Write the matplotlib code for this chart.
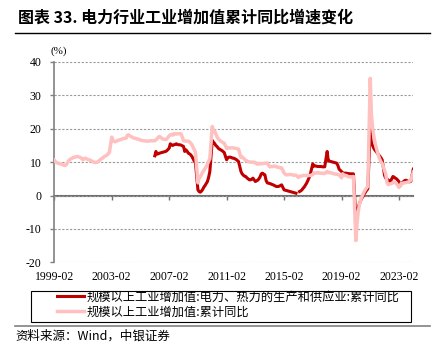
import numpy as np
import pandas as pd
import matplotlib
matplotlib.use('Agg')
import matplotlib.pyplot as plt
import matplotlib.dates as mdates
from matplotlib.lines import Line2D
from matplotlib.patches import Rectangle

cjk = ['Noto Sans CJK SC', 'DejaVu Sans']
serif = 'Liberation Serif'

#################################################
# cumulative yoy (%), one row per year, Feb..Dec (Jan-Feb reported together)

total_yoy = [
  10.6, 10.1, 9.9, 9.7, 9.6, 9.5, 9.4, 9.2, 9.1, 9.0, 9.2,          # 1999
  10.4, 10.8, 11.0, 11.2, 11.4, 11.5, 11.6, 11.7, 11.6, 11.5, 11.4,  # 2000
  10.7, 11.0, 11.2, 11.0, 10.8, 10.7, 10.6, 10.4, 10.2, 10.0, 9.9,   # 2001
  10.0, 10.3, 10.6, 10.9, 11.1, 11.4, 11.7, 11.9, 12.1, 12.5, 12.8,  # 2002
  17.5, 16.5, 16.2, 16.1, 16.3, 16.5, 16.6, 16.7, 16.8, 17.0, 17.1,  # 2003
  17.2, 18.0, 18.2, 17.9, 17.7, 17.5, 17.3, 17.2, 17.1, 17.0, 16.9,  # 2004
  16.6, 16.5, 16.4, 16.4, 16.4, 16.3, 16.3, 16.3, 16.4, 16.4, 16.4,  # 2005
  16.4, 16.7, 17.0, 17.5, 17.7, 17.4, 17.1, 16.9, 16.8, 16.8, 16.9,  # 2006
  17.9, 18.2, 18.3, 18.1, 18.5, 18.5, 18.4, 18.5, 18.5, 18.5, 18.5,  # 2007
  16.4, 16.4, 16.3, 16.3, 16.3, 16.1, 15.7, 15.2, 14.4, 13.7, 12.9,  # 2008
  3.8, 5.1, 5.5, 6.3, 7.0, 7.5, 8.1, 8.7, 9.4, 10.3, 11.0,           # 2009
  20.7, 19.6, 19.4, 18.5, 17.6, 17.0, 16.6, 16.3, 16.1, 15.8, 15.7,  # 2010
  14.1, 14.4, 14.3, 14.2, 14.3, 14.3, 14.2, 14.2, 14.1, 14.0, 13.9,  # 2011
  11.4, 11.6, 11.2, 10.9, 10.5, 10.4, 10.1, 10.1, 10.0, 10.0, 10.0,  # 2012
  9.9, 9.5, 9.4, 9.6, 9.5, 9.5, 9.6, 9.6, 9.7, 9.7, 9.7,             # 2013
  8.6, 8.7, 8.7, 8.7, 8.8, 8.8, 8.5, 8.5, 8.4, 8.3, 8.3,             # 2014
  6.8, 6.4, 6.2, 6.2, 6.3, 6.3, 6.3, 6.2, 6.1, 6.1, 6.1,             # 2015
  5.4, 5.8, 5.8, 5.9, 6.0, 6.0, 6.0, 6.0, 6.0, 6.0, 6.0,             # 2016
  6.3, 6.8, 6.7, 6.7, 6.9, 6.8, 6.7, 6.7, 6.7, 6.6, 6.6,             # 2017
  7.2, 6.8, 6.9, 6.9, 6.7, 6.6, 6.5, 6.4, 6.4, 6.3, 6.2,             # 2018
  5.3, 6.5, 6.2, 6.0, 6.0, 5.8, 5.6, 5.6, 5.6, 5.6, 5.7,             # 2019
  -13.5, -8.4, -4.9, -2.8, -1.3, -0.4, 0.4, 1.2, 1.8, 2.3, 2.8,      # 2020
  35.1, 24.5, 20.3, 17.8, 15.9, 14.4, 13.1, 11.8, 10.9, 10.1, 9.6,   # 2021
  7.5, 6.5, 4.0, 3.3, 3.4, 3.5, 3.6, 3.9, 4.0, 3.8, 3.6,             # 2022
  2.4, 3.0, 3.6, 3.6, 3.8, 3.8, 3.9, 4.0, 4.1, 4.3, 4.6,             # 2023
  7.0,                                                               # 2024-02
]

power_yoy = [
  11.9, 13.2, 12.4, 12.5, 12.7, 12.8, 12.9, 13.0, 13.1, 13.2, 13.4,  # 2006
  14.2, 15.5, 15.2, 15.0, 15.2, 15.3, 15.5, 15.3, 15.2, 15.2, 15.1,  # 2007
  14.7, 13.2, 13.7, 13.3, 12.7, 12.5, 12.2, 11.7, 11.0, 10.3, 9.7,   # 2008
  1.7, 1.2, 1.0, 1.3, 1.8, 2.5, 3.0, 3.6, 4.2, 5.5, 7.2,             # 2009
  16.5, 16.0, 15.6, 15.0, 14.7, 14.2, 13.9, 13.7, 13.5, 13.2, 12.9,  # 2010
  10.7, 11.3, 11.5, 11.5, 11.4, 11.2, 11.2, 11.0, 10.8, 10.5, 10.2,  # 2011
  7.2, 6.5, 6.1, 5.8, 5.7, 5.3, 5.0, 4.7, 4.7, 4.9, 5.2,             # 2012
  4.2, 4.4, 4.6, 5.0, 5.6, 6.5, 6.7, 6.4, 6.2, 4.5, 3.8,             # 2013
  3.6, 3.5, 3.3, 3.2, 3.0, 2.8, 2.7, 2.7, 2.8, 3.0, 3.2,             # 2014
  1.7, 1.6, 1.5, 1.4, 1.3, 1.2, 1.1, 1.0, 0.9, 0.8, 0.7,             # 2015
  np.nan, 1.2, 1.4, 1.7, 2.2, 2.6, 3.2, 3.8, 4.6, 5.4, 6.5,          # 2016
  9.5, 8.8, 8.9, 8.8, 8.7, 8.7, 8.7, 8.7, 8.6, 8.6, 8.6,             # 2017
  13.2, 10.5, 10.3, 10.2, 10.1, 10.0, 9.9, 9.8, 9.7, 9.0, 7.9,       # 2018
  7.2, 6.8, 6.7, 6.7, 6.7, 6.6, 6.6, 6.5, 6.5, 6.5, 6.5,             # 2019
  -7.0, -5.5, -3.6, -2.4, -1.5, -0.8, -0.2, 0.5, 1.0, 1.6, 2.0,      # 2020
  19.8, 16.0, 15.0, 14.2, 13.6, 13.2, 12.7, 12.2, 11.8, 11.3, 10.7,  # 2021
  6.0, 5.2, 5.0, 4.6, 4.3, 4.2, 5.0, 5.7, 5.5, 5.2, 5.0,             # 2022
  4.2, 2.9, 3.5, 3.9, 4.2, 4.5, 4.6, 4.4, 4.2, 4.1, 4.3,             # 2023
  7.9,                                                               # 2024-02
]

total_start = 1999
power_start = 2006
last_month = '2024-02'

label_power = '规模以上工业增加值:电力、热力的生产和供应业:累计同比'
label_total = '规模以上工业增加值:累计同比'
xtick_labels = ['1999-02', '2003-02', '2007-02', '2011-02', '2015-02', '2019-02', '2023-02']
yticks = [-20, -10, 0, 10, 20, 30, 40]

#################################################

def months(start_year):
  d = [pd.Timestamp(y, m, 1) for y in range(start_year, 2024) for m in range(2, 13)]
  d.append(pd.Timestamp(last_month))
  return d

x_total = months(total_start)
x_power = months(power_start)

W, H = 439, 350
fig = plt.figure(figsize=(W / 100, H / 100), dpi=100)
ax = fig.add_axes([54.3 / W, 1 - 262.3 / H, 359 / W, 200.3 / H])

red = '#C00000'
pink = '#FFC0C0'
ax.plot(x_power, power_yoy, color=red, lw=2.2, zorder=3)
ax.plot(x_total, total_yoy, color=pink, lw=2.5, zorder=4)

ax.set_xlim(pd.Timestamp(xtick_labels[0]), pd.Timestamp(last_month))
ax.set_ylim(-20, 40)
ax.set_yticks(yticks)
ax.set_yticklabels([str(v) for v in yticks], family=serif, fontsize=8.5)
ax.yaxis.grid(True, color='#999999', ls=(0, (2, 1.5)), lw=0.8)
ax.set_axisbelow(True)
ax.tick_params(axis='y', direction='out', length=3, width=1, color='#808080', pad=6)

xt = [mdates.date2num(pd.Timestamp(s)) for s in xtick_labels]
ax.set_xticks(xt)
ax.set_xticklabels(xtick_labels, family=serif, fontsize=8.5)
ax.tick_params(axis='x', length=0, pad=6)

for s in ['top', 'right', 'bottom']:
  ax.spines[s].set_visible(False)
ax.spines['left'].set_color('#808080')
ax.spines['left'].set_linewidth(1.2)

# zero line with the date ticks
sec = ax.secondary_xaxis(1 / 3)
sec.set_xticks(xt)
sec.tick_params(axis='x', direction='out', length=3, width=1, color='#707070', labelbottom=False)
sec.spines['bottom'].set_color('#707070')
sec.spines['bottom'].set_linewidth(1.5)

ax.text(-0.01, 1.055, '(%)', transform=ax.transAxes, fontsize=8, family=serif, va='center', ha='left')

# title
fig.text(18 / W, 1 - 18 / H, '图表 33. 电力行业工业增加值累计同比增速变化', fontsize=11.5,
         weight='bold', family=cjk, va='center', ha='left')
fig.add_artist(Line2D([15 / W, 430 / W], [1 - 33 / H] * 2, color='black', lw=1.0))

# legend
handles = [Line2D([], [], color=red, lw=2.2), Line2D([], [], color=pink, lw=2.5)]
fig.legend(handles, [label_power, label_total], loc='upper left', bbox_to_anchor=(57 / W, 1 - 290.5 / H),
           frameon=False, prop={'family': cjk, 'size': 8.8}, handlelength=2.2, handletextpad=0.2,
           labelspacing=0.15, borderpad=0, borderaxespad=0)
fig.add_artist(Rectangle((30.7 / W, 1 - 321.7 / H), 380 / W, 31 / H, fill=False, ec='black', lw=0.8,
                         transform=fig.transFigure))
fig.add_artist(Line2D([15 / W, 430 / W], [1 - 326 / H] * 2, color='#808080', lw=1.2))

fig.text(15 / W, 1 - 336 / H, '资料来源：Wind，中银证券', fontsize=9, style='italic', family=cjk,
         va='center', ha='left')

plt.savefig('out.png', dpi=100)
